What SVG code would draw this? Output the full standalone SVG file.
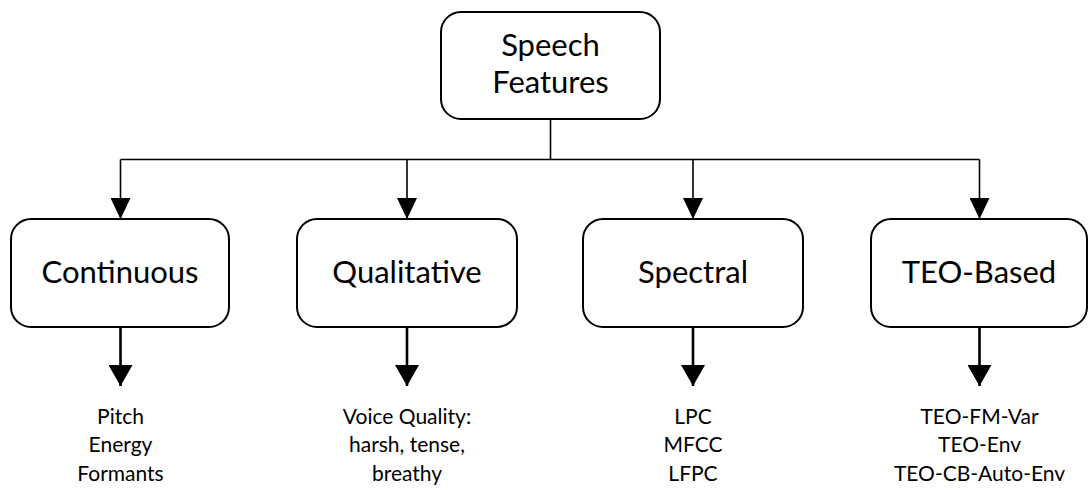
<svg xmlns="http://www.w3.org/2000/svg" width="1088" height="490" viewBox="0 0 1088 490">
<style>
.box{fill:#fff;stroke:#000;stroke-width:2}
.t{font-family:Lato,"Liberation Sans",sans-serif;font-size:31px;fill:#000;text-anchor:middle}
.s{font-family:Lato,"Liberation Sans",sans-serif;font-size:21px;fill:#000;text-anchor:middle}
.thin{stroke:#000;stroke-width:1.6;fill:none}
.thick{stroke:#000;stroke-width:2.6;fill:none}
</style>
<defs>
<marker id="ah" markerUnits="userSpaceOnUse" markerWidth="22" markerHeight="20" refX="21" refY="10" orient="auto">
<path d="M0,0 L21,10 L0,20 Z" fill="#000"/>
</marker>
<marker id="ahb" markerUnits="userSpaceOnUse" markerWidth="22" markerHeight="24" refX="21" refY="12" orient="auto">
<path d="M0,0 L21,12 L0,24 Z" fill="#000"/>
</marker>
</defs>
<g id="connectors">
<polyline class="thin" points="550.5,119 550.5,159.5"/>
<polyline class="thin" points="120.5,159.5 979.5,159.5"/>
<line class="thin" x1="120.5" y1="159.5" x2="120.5" y2="219" marker-end="url(#ah)"/>
<line class="thin" x1="407" y1="159.5" x2="407" y2="219" marker-end="url(#ah)"/>
<line class="thin" x1="693" y1="159.5" x2="693" y2="219" marker-end="url(#ah)"/>
<line class="thin" x1="979.5" y1="159.5" x2="979.5" y2="219" marker-end="url(#ah)"/>
<line class="thick" x1="120.5" y1="327" x2="120.5" y2="386" marker-end="url(#ahb)"/>
<line class="thick" x1="407" y1="327" x2="407" y2="386" marker-end="url(#ahb)"/>
<line class="thick" x1="693" y1="327" x2="693" y2="386" marker-end="url(#ahb)"/>
<line class="thick" x1="979.5" y1="327" x2="979.5" y2="386" marker-end="url(#ahb)"/>
</g>
<g id="root">
<rect class="box" x="441" y="12" width="219" height="107" rx="20"/>
<text class="t" x="550.5" y="56">Speech</text>
<text class="t" x="550.5" y="93">Features</text>
</g>
<g id="continuous">
<rect class="box" x="11" y="219" width="218" height="108" rx="20"/>
<text class="t" x="120" y="283">Continuous</text>
</g>
<g id="qualitative">
<rect class="box" x="297" y="219" width="220" height="108" rx="20"/>
<text class="t" x="407" y="283">Qualitative</text>
</g>
<g id="spectral">
<rect class="box" x="583" y="219" width="220" height="108" rx="20"/>
<text class="t" x="693" y="283">Spectral</text>
</g>
<g id="teo">
<rect class="box" x="871" y="219" width="216" height="108" rx="20"/>
<text class="t" x="979" y="283">TEO-Based</text>
</g>
<g id="continuous-items">
<text class="s" x="120.5" y="424">Pitch</text>
<text class="s" x="120.5" y="452">Energy</text>
<text class="s" x="120.5" y="481">Formants</text>
</g>
<g id="qualitative-items">
<text class="s" x="407" y="424">Voice Quality:</text>
<text class="s" x="407" y="452">harsh, tense,</text>
<text class="s" x="407" y="481">breathy</text>
</g>
<g id="spectral-items">
<text class="s" x="693" y="424">LPC</text>
<text class="s" x="693" y="452">MFCC</text>
<text class="s" x="693" y="481">LFPC</text>
</g>
<g id="teo-items">
<text class="s" x="979.5" y="424">TEO-FM-Var</text>
<text class="s" x="979.5" y="452">TEO-Env</text>
<text class="s" x="979.5" y="481">TEO-CB-Auto-Env</text>
</g>
</svg>
